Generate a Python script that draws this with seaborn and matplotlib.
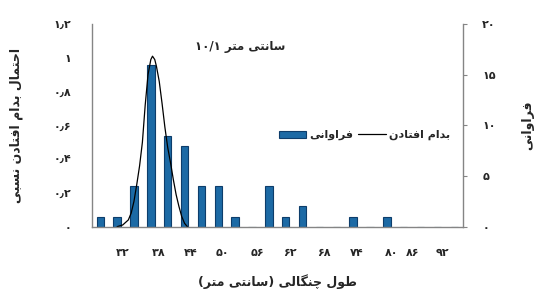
import re
import matplotlib
matplotlib.use("Agg")
import matplotlib.pyplot as plt
from matplotlib.patches import Patch
from matplotlib.lines import Line2D
import seaborn as sns

# data
length_cm = [28, 31, 34, 37, 40, 43, 46, 49, 52, 55, 58, 61, 64, 67, 70, 73, 76, 79, 82, 85, 88, 91]
frequency = [1, 1, 4, 16, 9, 8, 4, 4, 1, 0, 4, 1, 2, 0, 0, 1, 0, 1, 0, 0, 0, 0]

curve_len = [31.0, 32.0, 33.0, 33.5, 34.0, 34.5, 35.0, 35.5, 36.0, 36.5, 37.0, 37.3, 37.7,
             38.0, 38.5, 39.0, 39.5, 40.0, 40.5, 41.0, 41.5, 42.0, 42.5, 43.0, 43.5]
curve_val = [0.0, 0.01, 0.04, 0.08, 0.15, 0.25, 0.36, 0.50, 0.72, 0.90, 0.99, 1.01, 0.99,
             0.95, 0.86, 0.73, 0.59, 0.47, 0.38, 0.28, 0.19, 0.12, 0.06, 0.02, 0.0]

left_ticks = [0, 0.2, 0.4, 0.6, 0.8, 1.0, 1.2]
left_labels = ["۰", "۰٫۲", "۰٫۴", "۰٫۶", "۰٫۸", "۱", "۱٫۲"]
right_ticks = [0, 5, 10, 15, 20]
right_labels = ["۰", "۵", "۱۰", "۱۵", "۲۰"]
x_labels = ["۳۲", "۳۸", "۴۴", "۵۰", "۵۶", "۶۲", "۶۸", "۷۴", "۸۰", "۸۶", "۹۲"]
x_label_pos = [32, 38.4, 44.1, 49.8, 55.9, 61.7, 67.8, 73.7, 79.9, 83.6, 88.8]

# simple persian shaping (matplotlib has no bidi / joining)
FORMS = {  # isolated, final, initial, medial
    'ا': ('\uFE8D', '\uFE8E', None, None),
    'د': ('\uFEA9', '\uFEAA', None, None),
    'ر': ('\uFEAD', '\uFEAE', None, None),
    'و': ('\uFEED', '\uFEEE', None, None),
    'ب': ('\uFE8F', '\uFE90', '\uFE91', '\uFE92'),
    'ت': ('\uFE95', '\uFE96', '\uFE97', '\uFE98'),
    'ح': ('\uFEA1', '\uFEA2', '\uFEA3', '\uFEA4'),
    'س': ('\uFEB1', '\uFEB2', '\uFEB3', '\uFEB4'),
    'ط': ('\uFEC1', '\uFEC2', '\uFEC3', '\uFEC4'),
    'ف': ('\uFED1', '\uFED2', '\uFED3', '\uFED4'),
    'ل': ('\uFEDD', '\uFEDE', '\uFEDF', '\uFEE0'),
    'م': ('\uFEE1', '\uFEE2', '\uFEE3', '\uFEE4'),
    'ن': ('\uFEE5', '\uFEE6', '\uFEE7', '\uFEE8'),
    'ی': ('\uFBFC', '\uFBFD', '\uFBFE', '\uFBFF'),
    'چ': ('\uFB7A', '\uFB7B', '\uFB7C', '\uFB7D'),
    'گ': ('\uFB92', '\uFB93', '\uFB94', '\uFB95'),
}


def fa(text):
    out = []
    for i, c in enumerate(text):
        if c not in FORMS:
            out.append(c)
            continue
        iso, fin, ini, med = FORMS[c]
        prev = text[i - 1] if i > 0 else ''
        nxt = text[i + 1] if i + 1 < len(text) else ''
        jp = prev in FORMS and FORMS[prev][2] is not None
        jn = nxt in FORMS and ini is not None
        out.append(med if jp and jn else fin if jp else ini if jn else iso)
    vis = ''.join(out)[::-1].translate(str.maketrans('()', ')('))
    return re.sub(r'[۰-۹/٫]+', lambda m: m.group(0)[::-1], vis)


sns.set_theme(style="white")
plt.rcParams['font.family'] = ['DejaVu Sans']

bar_color = '#1c6aa5'
spine_color = '#858585'

fig = plt.figure(figsize=(5.4, 2.94), dpi=100)
ax = fig.add_axes([0.170, 0.229, 0.687, 0.689])
ax2 = ax.twinx()

sns.barplot(x=length_cm, y=frequency, native_scale=True, width=0.44, color=bar_color,
            saturation=1, edgecolor='#0d3d6b', linewidth=0.8, ax=ax2)
sns.lineplot(x=curve_len, y=curve_val, color='black', linewidth=0.9, ax=ax)

ax.set_zorder(ax2.get_zorder() + 1)
ax.patch.set_visible(False)

ax.set_xlim(26.5, 92.5)
ax.set_ylim(0, 1.2)
ax2.set_ylim(0, 20)

ax.set_yticks(left_ticks)
ax.set_yticklabels(left_labels, fontsize=8, fontweight='bold')
ax.tick_params(axis='y', length=0, pad=15)
ax.set_xticks(x_label_pos)
ax.set_xticklabels(x_labels, fontsize=8, fontweight='bold')
ax.tick_params(axis='x', length=0, pad=15)

ax2.set_yticks(right_ticks)
ax2.set_yticklabels(right_labels, fontsize=8, fontweight='bold')
ax2.tick_params(axis='y', length=3, width=0.8, color=spine_color, direction='out', pad=11)
ax2.set_xlabel('')
ax2.set_ylabel('')

for s in ['top', 'right']:
    ax.spines[s].set_visible(False)
for s in ['top', 'left', 'bottom']:
    ax2.spines[s].set_visible(False)
for s in ['left', 'bottom']:
    ax.spines[s].set_color(spine_color)
    ax.spines[s].set_linewidth(1)
ax2.spines['right'].set_color(spine_color)
ax2.spines['right'].set_linewidth(1)

ax.set_xlabel(fa("طول چنگالی (سانتی متر)"), fontsize=9, fontweight='bold', labelpad=12)
ax.set_ylabel(fa("احتمال بدام افتادن نسبی"), fontsize=9, fontweight='bold', labelpad=22)
ax2.set_ylabel(fa("فراوانی"), fontsize=9, fontweight='bold', labelpad=18)

ax.text(0.40, 0.887, "۱۰/۱ " + fa("سانتی متر"), transform=ax.transAxes,
        ha='center', va='center', fontsize=8.5, fontweight='bold')

handles = [Patch(facecolor=bar_color, edgecolor='#0d3d6b', linewidth=0.8),
           Line2D([], [], color='black', linewidth=0.9)]
ax.legend(handles, [fa("فراوانی"), fa("بدام افتادن")], ncol=2, frameon=False,
          loc='center', bbox_to_anchor=(0.735, 0.452),
          prop={'weight': 'bold', 'size': 8}, handlelength=2.5, handleheight=0.6,
          handletextpad=0.3, columnspacing=0.4)

fig.savefig("out.png", dpi=100)
